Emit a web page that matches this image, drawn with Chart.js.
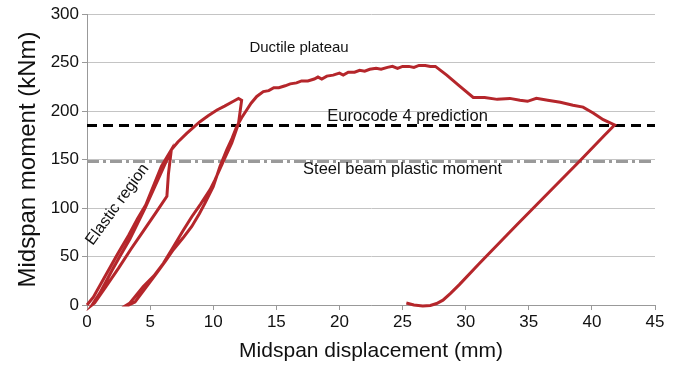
<!DOCTYPE html>
<html>
<head>
<meta charset="utf-8">
<script src="https://cdn.jsdelivr.net/npm/chart.js@4"></script>
<style>
  html, body { margin: 0; padding: 0; background: #fff; }
  #wrap { width: 680px; height: 365px; }
</style>
</head>
<body>
<div id="wrap"><canvas id="moment"></canvas></div>
<script>
// measured midspan response, in load order
const dispMM = [
  0, 0.5, 1.1, 2.4, 3.3, 4.0, 4.65, 5.3, 5.9, 6.68,
  6.45, 6.33, 5.5, 4.5, 3.5, 2.5, 1.5, 0.6, 0.4,
  1.0, 2.0, 2.6, 3.4, 4.0, 4.6, 5.3, 6.0, 6.68,
  7.2, 7.9, 8.5, 8.95, 9.6, 10.3, 10.9, 11.6, 12.0, 12.25,
  12.0, 11.47, 10.8, 10.14, 9.75, 9.0, 8.3, 7.63, 6.8, 6.05, 5.3, 4.46, 3.9, 3.4, 3.15,
  3.3, 3.8, 4.6, 5.52, 6.2, 6.84, 7.6, 8.3, 8.9, 9.35, 10.0, 10.54, 11.07, 11.5, 11.86, 12.25, 12.65, 13.0, 13.45, 13.97,
  14.4, 14.8, 15.2, 15.7, 16.1, 16.6, 17.0, 17.5, 18.0, 18.3, 18.6, 19.0, 19.5, 20.0, 20.3, 20.7,
  21.2, 21.6, 22.0, 22.4, 22.9, 23.3, 23.8, 24.2, 24.6, 25.0, 25.5, 25.9, 26.3, 26.8, 27.2, 27.6,
  28.5, 29.5, 30.6, 31.5, 32.5, 33.5, 34.3, 34.9, 35.6, 36.5, 37.5, 38.5, 39.3, 40.1, 40.9, 41.8,
  41.0, 39.0, 36.5, 34.0, 31.1, 29.5, 28.8, 28.2, 27.7, 27.2, 26.6, 25.9, 25.3
];
const momentKNm = [
  0, 8, 22, 52, 72, 89, 103, 124, 143, 160,
  135, 112, 96, 77, 58, 38, 19, 2, 0,
  12, 36, 50, 68, 84, 100, 120, 140, 160,
  168, 177, 184, 189, 195, 201, 205, 210, 213, 211,
  187, 167, 148, 129, 119, 104, 91, 77, 59, 43, 30, 19, 10, 2, 0,
  0, 3, 17, 33, 45, 57, 69, 81, 94, 105, 122, 143, 160, 172, 184, 193, 201, 208, 215, 220,
  221, 224, 224, 226, 228, 229, 231, 231, 233, 235, 233, 236, 237, 239, 237, 240,
  240, 242, 241, 243, 244, 243, 245, 246, 244, 246, 246, 245, 247, 247, 246, 246,
  237, 226, 214, 214, 212, 213, 211, 210, 213, 211, 209, 206, 204, 198, 191, 185.6,
  175, 148, 115, 82, 43, 21, 12, 5, 1.5, -0.5, -1, 0, 2
];

const xRange = [0, 45];
const eurocodeMoment = 185;
const steelPlasticMoment = 148;

const xTicks = [0, 5, 10, 15, 20, 25, 30, 35, 40, 45];
const yTicks = [0, 50, 100, 150, 200, 250, 300];

const curve = dispMM.map((x, i) => ({ x, y: momentKNm[i] }));
const flat = v => xRange.map(x => ({ x, y: v }));

const FONT = "'Liberation Sans', Arial, Helvetica, sans-serif";

// callouts written onto the plot, placed in data units
const notes = [
  { text: 'Ductile plateau', x: 16.8, y: 261, rot: 0, size: 15 },
  { text: 'Eurocode 4 prediction', x: 25.4, y: 190, rot: 0, size: 16.5 },
  { text: 'Steel beam plastic moment', x: 25.0, y: 135, rot: 0, size: 16.5 },
  { text: 'Elastic region', x: 2.7, y: 101, rot: -54, size: 16 },
];

const notesPlugin = {
  id: 'notes',
  afterDatasetsDraw(chart) {
    const { ctx, scales: { x, y } } = chart;
    ctx.save();
    ctx.fillStyle = '#111';
    ctx.textAlign = 'center';
    ctx.textBaseline = 'alphabetic';
    notes.forEach(n => {
      ctx.save();
      ctx.font = `${n.size}px ${FONT}`;
      ctx.translate(x.getPixelForValue(n.x), y.getPixelForValue(n.y));
      ctx.rotate(n.rot * Math.PI / 180);
      ctx.fillText(n.text, 0, 0);
      ctx.restore();
    });
    ctx.restore();
  },
};

new Chart(document.getElementById('moment'), {
  type: 'scatter',
  data: {
    datasets: [
      {
        data: curve,
        showLine: true,
        borderColor: '#B5262B',
        borderWidth: 3,
        pointRadius: 0,
        tension: 0,
        clip: 6,
      },
      {
        data: flat(eurocodeMoment),
        showLine: true,
        borderColor: '#000',
        borderWidth: 3,
        borderDash: [10, 6],
        pointRadius: 0,
      },
      {
        data: flat(steelPlasticMoment),
        showLine: true,
        borderColor: '#9a9a9a',
        borderWidth: 3,
        borderDash: [12, 4, 3, 4],
        pointRadius: 0,
      },
    ],
  },
  options: {
    responsive: true,
    maintainAspectRatio: false,
    animation: false,
    layout: { padding: { top: 14, right: 25, left: 0, bottom: 0 } },
    plugins: {
      legend: { display: false },
      tooltip: { enabled: false },
    },
    scales: {
      x: {
        type: 'linear',
        min: 0, max: 45,
        afterFit: s => { s.height = 60; },
        afterBuildTicks: s => { s.ticks = xTicks.map(value => ({ value })); },
        grid: { drawOnChartArea: false, tickLength: 5, color: '#999' },
        border: { color: '#999', width: 1 },
        ticks: { color: '#111', font: { family: FONT, size: 17 }, padding: 2, maxRotation: 0 },
        title: {
          display: true,
          text: 'Midspan displacement (mm)',
          color: '#111',
          font: { family: FONT, size: 21 },
          padding: { top: 0, bottom: 1 },
        },
      },
      y: {
        type: 'linear',
        min: 0, max: 300,
        afterFit: s => { s.width = 87; },
        afterBuildTicks: s => { s.ticks = yTicks.map(value => ({ value })); },
        grid: { color: '#c4c4c4', tickColor: '#999', tickLength: 5 },
        border: { color: '#999', width: 1 },
        ticks: { color: '#111', font: { family: FONT, size: 17 }, padding: 3 },
        title: {
          display: true,
          text: 'Midspan moment (kNm)',
          color: '#111',
          font: { family: FONT, size: 24 },
          padding: { top: 14, bottom: 0 },
        },
      },
    },
  },
  plugins: [notesPlugin],
});
</script>
</body>
</html>
